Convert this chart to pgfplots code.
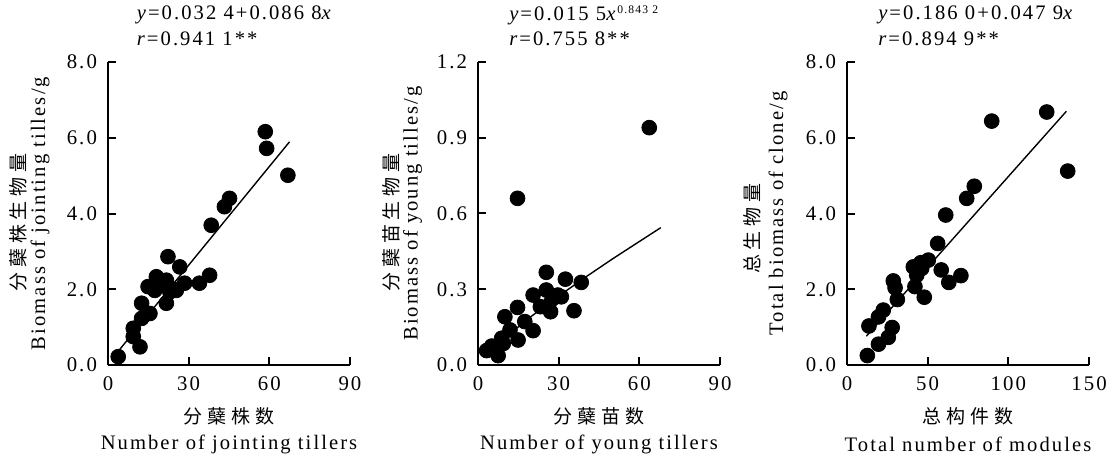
\documentclass[border=0pt]{standalone}
\usepackage{fontspec}
\setmainfont{Liberation Serif}[LetterSpace=10]
\newfontfamily\cjk{Noto Sans CJK SC}[LetterSpace=25]
\usepackage{pgfplots}
\pgfplotsset{compat=1.18}

\pgfplotsset{
  panel/.style={
    scale only axis, width=121pt, height=151.5pt,
    axis lines=left, axis line style={-, line width=1pt},
    tick align=inside, major tick length=3.8pt,
    tick style={line width=1pt, black},
    xmin=0, ymin=0, clip=false,
    ticklabel style={font=\fontsize{10.4}{12}\selectfont},
    xticklabel style={yshift=-2.5pt},
    yticklabel style={xshift=-2pt, /pgf/number format/.cd, fixed, fixed zerofill, precision=1},
    /pgf/number format/assume math mode=true,
  },
  dots/.style={only marks, mark=*, mark size=3.7pt, black},
  fit/.style={black, line width=0.7pt, no marks},
}
\newcommand\lab{\fontsize{10.3}{12}\selectfont}
\newcommand\clab{\fontsize{9.5}{11}\selectfont\cjk}

\begin{document}
\begin{tikzpicture}
% ---- panel 1 ----
\begin{axis}[panel, at={(0pt,0pt)}, xmax=90, ymax=8, xtick={0,30,60,90}, ytick={0,2,4,6,8}]
\addplot[dots] coordinates {
 (3.8,0.22)(9.4,0.97)(9.4,0.75)(11.9,0.48)(12.5,1.63)(12.5,1.23)(15.6,1.36)
 (14.9,2.07)(18,2.33)(17.4,1.97)(19.8,2.11)(21.7,2.24)(21.7,1.63)(22.3,2.86)
 (23,1.93)(24.5,2.0)(25.4,1.97)(26.7,2.59)(28.5,2.16)(34,2.16)(37.8,2.37)
 (38.4,3.69)(43.3,4.18)(45.2,4.40)(58.5,6.16)(59,5.72)(66.9,5.01)};
\addplot[fit] coordinates {(3,0.293)(67.5,5.891)};
\node[anchor=west, font=\lab] at ([yshift=23.5pt]rel axis cs:0.09,1) {\textit{y}=0.032 4+0.086 8\textit{x}};
\node[anchor=west, font=\lab] at ([yshift=11.5pt]rel axis cs:0.09,1) {\textit{r}=0.941 1**};
\node[rotate=90, font=\clab] at (rel axis cs:-0.372,0.47) {分蘖株生物量};
\node[rotate=90, font=\lab] at (rel axis cs:-0.281,0.5) {Biomass of jointing tilles/g};
\node[font=\clab] at (rel axis cs:0.5,-0.168) {分蘖株数};
\node[font=\lab] at (rel axis cs:0.5,-0.262) {Number of jointing tillers};
\end{axis}
% ---- panel 2 ----
\begin{axis}[panel, at={(185pt,0pt)}, xmax=90, ymax=1.2, xtick={0,30,60,90}, ytick={0,0.3,0.6,0.9,1.2}]
\addplot[dots] coordinates {
 (63.7,0.94)(14.7,0.66)(25.4,0.367)(32.5,0.34)(38.4,0.327)(25.4,0.297)(20.5,0.277)
 (29.7,0.277)(23.2,0.231)(27,0.211)(35.7,0.215)(14.7,0.228)(10,0.191)(17.4,0.172)
 (20.5,0.136)(14.9,0.099)(11.9,0.139)(8.8,0.106)(5.1,0.075)(3.2,0.057)(7.5,0.037)
 (9.4,0.085)(27.5,0.26)(31,0.27)};
\addplot[fit] coordinates {(3,0.039)(5,0.060)(10,0.108)(20,0.194)(30,0.273)(40,0.348)(50,0.420)(60,0.489)(68,0.544)};
\node[anchor=west, font=\lab] at ([yshift=23.5pt]rel axis cs:0.1,1) {\textit{y}=0.015 5\textit{x}\textsuperscript{\fontsize{5.8}{6}\selectfont 0.843 2}};
\node[anchor=west, font=\lab] at ([yshift=11.5pt]rel axis cs:0.1,1) {\textit{r}=0.755 8**};
\node[rotate=90, font=\clab] at (rel axis cs:-0.36,0.47) {分蘖苗生物量};
\node[rotate=90, font=\lab] at (rel axis cs:-0.27,0.5) {Biomass of young tilles/g};
\node[font=\clab] at (rel axis cs:0.5,-0.168) {分蘖苗数};
\node[font=\lab] at (rel axis cs:0.5,-0.262) {Number of young tillers};
\end{axis}
% ---- panel 3 ----
\begin{axis}[panel, at={(369.5pt,0pt)}, xmax=150, ymax=8, xtick={0,50,100,150}, ytick={0,2,4,6,8}]
\addplot[dots] coordinates {
 (123.8,6.68)(89.7,6.44)(136.8,5.12)(78.9,4.72)(74.2,4.40)(61.2,3.96)(56.2,3.21)
 (50.4,2.77)(41.1,2.59)(46.3,2.55)(45.7,2.70)(58.4,2.51)(70.6,2.36)(63.1,2.18)
 (43.2,2.37)(42.1,2.07)(47.9,1.79)(28.7,2.22)(29.8,2.04)(31.2,1.73)(22.5,1.45)
 (19.5,1.27)(13.6,1.03)(28,0.99)(25.6,0.73)(19.5,0.55)(12.6,0.25)};
\addplot[fit] coordinates {(12,0.761)(136,6.70)};
\node[anchor=west, font=\lab] at ([yshift=23.5pt]rel axis cs:0.1,1) {\textit{y}=0.186 0+0.047 9\textit{x}};
\node[anchor=west, font=\lab] at ([yshift=11.5pt]rel axis cs:0.1,1) {\textit{r}=0.894 9**};
\node[rotate=90, font=\clab] at (rel axis cs:-0.39,0.45) {总生物量};
\node[rotate=90, font=\lab] at (rel axis cs:-0.285,0.5) {Total biomass of clone/g};
\node[font=\clab] at (rel axis cs:0.5,-0.168) {总构件数};
\node[font=\lab] at (rel axis cs:0.5,-0.262) {Total number of modules};
\end{axis}
\pgfresetboundingbox
\path (-54pt,-47.5pt) rectangle (505pt,182.5pt);
\end{tikzpicture}
\end{document}
